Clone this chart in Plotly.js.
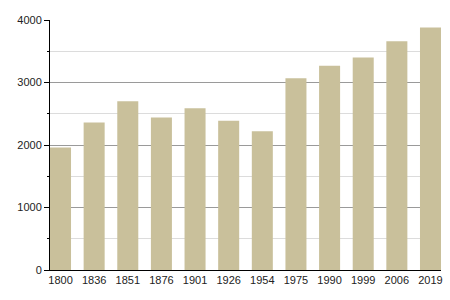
<!DOCTYPE html>
<html><head><meta charset="utf-8">
<script src="https://cdn.plot.ly/plotly-3.0.1.min.js"></script>
<style>body{margin:0;background:#fff}#chart{width:450px;height:300px}</style>
</head><body><div id="chart"></div>
<script>
const years = ["1800","1836","1851","1876","1901","1926","1954","1975","1990","1999","2006","2019"];
const population = [1960, 2360, 2700, 2440, 2590, 2390, 2220, 3070, 3270, 3400, 3660, 3880];

Plotly.newPlot('chart', [{
  type: 'bar', x: years, y: population, width: 0.625,
  marker: {color: '#c9c09b', line: {width: 0}}, hoverinfo: 'none'
}], {
  width: 450, height: 300,
  margin: {l: 50, r: 9, t: 20, b: 30},
  paper_bgcolor: '#fff', plot_bgcolor: '#fff',
  showlegend: false,
  font: {family: 'Liberation Sans, Arial, sans-serif', size: 11, color: '#222'},
  xaxis: {type: 'category', range: [-0.3125, 11.3125], showline: true, linecolor: '#000', linewidth: 1,
          ticks: '', showgrid: false, tickfont: {size: 11}, fixedrange: true},
  yaxis: {range: [0, 4000], dtick: 1000, showline: true, linecolor: '#000', linewidth: 1,
          ticks: 'outside', ticklen: 5, tickcolor: '#000', tickwidth: 1,
          showgrid: true, gridcolor: '#9a9a9a', gridwidth: 1, zeroline: false,
          minor: {dtick: 500, ticks: 'outside', ticklen: 2, tickcolor: '#000', showgrid: true, gridcolor: '#dcdcdc'},
          tickfont: {size: 11}, fixedrange: true}
}, {staticPlot: true});
</script></body></html>
